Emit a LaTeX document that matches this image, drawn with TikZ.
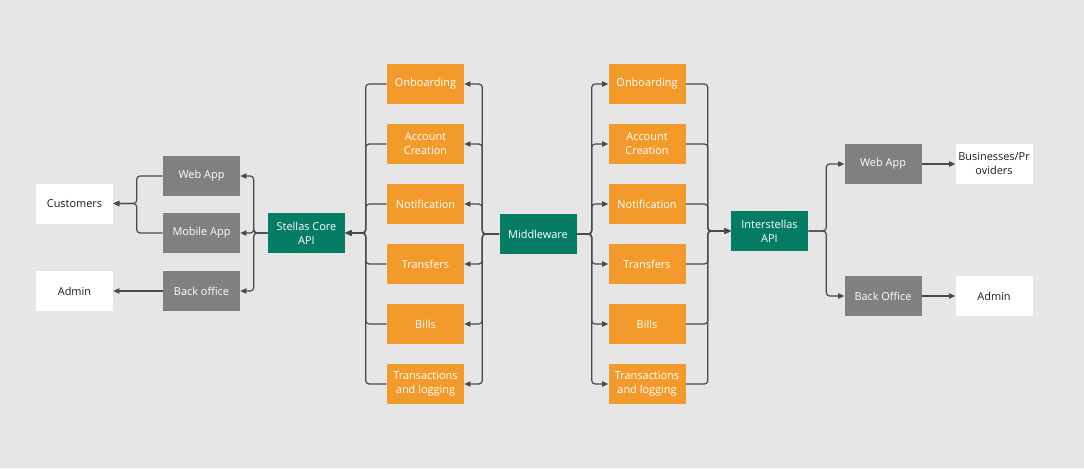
\documentclass[tikz,border=0pt]{standalone}
\usepackage{fontspec}
\setmainfont{Open Sans}
\usetikzlibrary{arrows.meta}
\definecolor{bgc}{HTML}{E6E6E6}
\definecolor{orangebox}{HTML}{F39A2C}
\definecolor{greenbox}{HTML}{067C64}
\definecolor{graybox}{HTML}{808080}
\definecolor{linec}{HTML}{4A4A4A}
\definecolor{darktext}{HTML}{1E1E1E}
\begin{document}
\begin{tikzpicture}[x=0.75pt,y=-0.75pt,
  box/.style={minimum width=57.75pt,minimum height=30pt,inner sep=1pt,
    align=center,font=\fontsize{8.2}{10.5}\selectfont},
  svc/.style={box,fill=orangebox,text=white},
  api/.style={box,fill=greenbox,text=white},
  app/.style={box,fill=graybox,text=white},
  actor/.style={box,fill=white,text=darktext},
  link/.style={draw=linec,line width=0.9pt,rounded corners=2.5pt},
  arr/.style={link,-{Triangle[length=4.5pt,width=4pt]}}]
\fill[bgc] (0,0) rectangle (1084,468);
\useasboundingbox (0,0) rectangle (1084,468);

% actors and client apps on the core side
\node[actor] (cust) at (74.5,203.5) {Customers};
\node[actor] (admA) at (74.5,291) {Admin};
\node[app] (webA) at (201.5,176) {Web App};
\node[app] (mobA) at (201.5,233) {Mobile App};
\node[app] (boA) at (201.5,291) {Back office};
\node[api] (core) at (306.5,233) {Stellas Core\\API};

% service columns
\foreach \n/\y/\t in {1/84/Onboarding,2/144/Account\\Creation,3/204/Notification,
    4/264/Transfers,5/324/Bills,6/384/Transactions\\and logging}{
  \node[svc] (sl\n) at (425.5,\y) {\t};
  \node[svc] (sr\n) at (647,\y) {\t};
}
\node[api] (mw) at (538,234) {Middleware};
\node[api] (inter) at (769.5,231) {Interstellas\\API};

% partner side
\node[app] (webB) at (883,164) {Web App};
\node[app] (boB) at (883,296) {Back Office};
\node[actor] (biz) at (994,164) {Businesses/Pr\\oviders};
\node[actor] (admB) at (994,296) {Admin};

% core side connectors
\draw[arr] (webA.west) -- ++(-26,0) |- (cust.east);
\draw[arr] (mobA.west) -- ++(-26,0) |- (cust.east);
\draw[arr] (boA.west) -- (admA.east);
\foreach \t in {webA,mobA,boA}
  \draw[arr] (core.west) -- ++(-14,0) |- (\t.east);

% left service column
\foreach \n in {1,...,6}{
  \draw[arr] (sl\n.west) -- ++(-21,0) |- (core.east);
  \draw[arr] (mw.west) -- ++(-17,0) |- (sl\n.east);
}

% right service column
\foreach \n in {1,...,6}{
  \draw[arr] (mw.east) -- ++(15,0) |- (sr\n.west);
  \draw[arr] (sr\n.east) -- ++(22,0) |- (inter.west);
}

% partner side connectors
\draw[arr] (inter.east) -- ++(18,0) |- (webB.west);
\draw[arr] (inter.east) -- ++(18,0) |- (boB.west);
\draw[arr] (webB.east) -- (biz.west);
\draw[arr] (boB.east) -- (admB.west);
\end{tikzpicture}
\end{document}
